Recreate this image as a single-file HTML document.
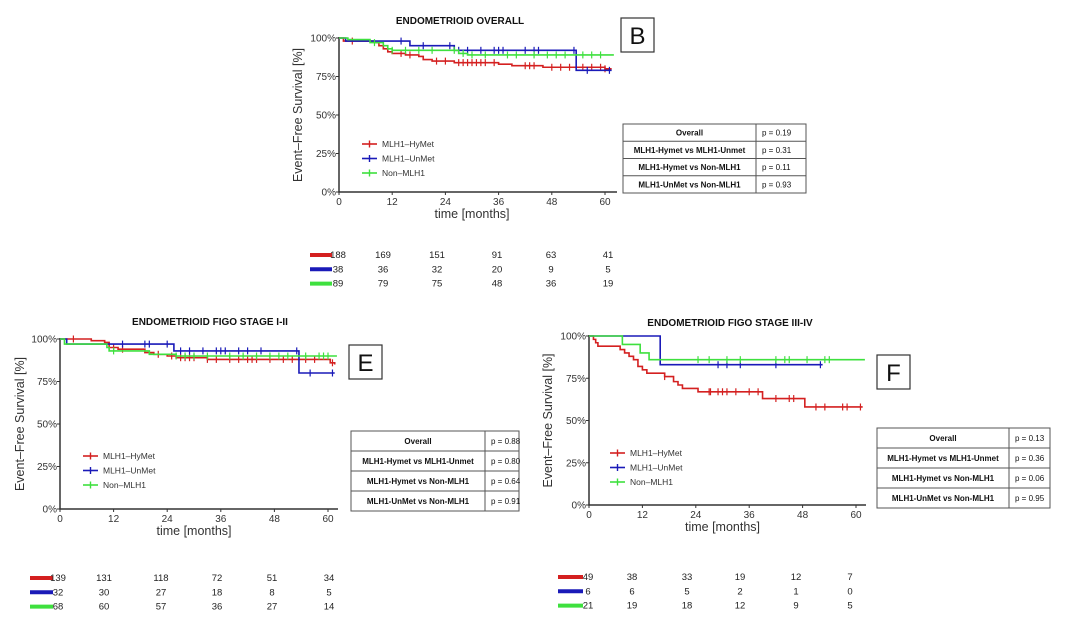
<!DOCTYPE html>
<html><head><meta charset="utf-8">
<style>
html,body{margin:0;padding:0;background:#fff;}
svg{display:block;font-family:"Liberation Sans",Arial,sans-serif;}
</style></head>
<body>
<svg id="fig" width="1080" height="632" viewBox="0 0 1080 632"></svg>
<script>
// ---------- DATA ----------
const tickMonths = [0, 12, 24, 36, 48, 60];
const tickPct = [0, 25, 50, 75, 100];
const seriesNames = ["MLH1–HyMet", "MLH1–UnMet", "Non–MLH1"];

// Panel B (overall)
const bRedT = [0, 1, 8, 9, 10, 11, 12, 15, 18, 19, 21, 26, 36, 39, 46, 60, 61.5];
const bRedS = [100, 98, 97, 95, 93, 91, 90, 89, 88, 86, 85, 84, 83, 82, 81, 80, 80];
const bRedC = [3, 14, 16, 22, 24, 27, 28, 29, 30, 31, 32, 33, 35, 42, 43, 44, 48, 50, 52, 55, 57, 59, 60];
const bBlueT = [0, 1.5, 16, 26, 53.5, 61.5];
const bBlueS = [100, 98, 95, 92, 79, 79];
const bBlueC = [14, 19, 25, 27, 29, 32, 35, 36, 37, 42, 44, 45, 53, 56, 61];
const bGreenT = [0, 2, 7, 10, 11, 12, 27, 29, 62];
const bGreenS = [100, 99, 97, 95, 93, 92, 90, 89, 89];
const bGreenC = [8, 12, 15, 18, 21, 26, 28, 30, 33, 38, 40, 44, 47, 49, 51, 55, 57, 59];
const bRisk = [[188, 169, 151, 91, 63, 41], [38, 36, 32, 20, 9, 5], [89, 79, 75, 48, 36, 19]];
const bPvals = ["p = 0.19", "p = 0.31", "p = 0.11", "p = 0.93"];

// Panel E (stage I-II)
const eRedT = [0, 7, 10, 11, 13, 19, 21, 24, 26, 33, 60.5, 61.5];
const eRedS = [100, 99, 98, 95, 94, 92, 91, 90, 89, 88, 86, 85];
const eRedC = [3, 12, 14, 22, 25, 27, 28, 29, 30, 33, 35, 38, 40, 42, 43, 44, 47, 50, 52, 55, 57, 61];
const eBlueT = [0, 1.5, 25.5, 53.5, 61.5];
const eBlueS = [100, 97, 93, 80, 80];
const eBlueC = [14, 19, 20, 24, 27, 29, 32, 35, 36, 37, 40, 42, 45, 53, 56, 61];
const eGreenT = [0, 1, 10.5, 11, 20, 26, 62];
const eGreenS = [100, 97, 95, 93, 91, 90, 90];
const eGreenC = [12, 26, 28, 30, 33, 38, 41, 44, 47, 49, 51, 55, 58, 59, 60];
const eRisk = [[139, 131, 118, 72, 51, 34], [32, 30, 27, 18, 8, 5], [68, 60, 57, 36, 27, 14]];
const ePvals = ["p = 0.88", "p = 0.80", "p = 0.64", "p = 0.91"];

// Panel F (stage III-IV)
const fRedT = [0, 1, 1.5, 2, 7, 8, 9, 10, 11, 12, 13, 17, 19, 20, 21, 24.5, 39, 48.5, 61.5];
const fRedS = [100, 98, 96, 94, 92, 90, 88, 86, 82, 80, 78, 76, 73, 71, 69, 67, 63, 58, 58];
const fRedC = [17, 27, 27.3, 29, 30, 31, 33, 36, 38, 42, 45, 46, 51, 53, 57, 58, 61];
const fBlueT = [0, 16, 52.5];
const fBlueS = [100, 83, 83];
const fBlueC = [29, 31, 34, 42, 52];
const fGreenT = [0, 7.5, 11.5, 13.5, 62];
const fGreenS = [100, 95, 90, 86, 86];
const fGreenC = [24.5, 27, 31, 34, 42, 44, 45, 49, 53, 54];
const fRisk = [[49, 38, 33, 19, 12, 7], [6, 6, 5, 2, 1, 0], [21, 19, 18, 12, 9, 5]];
const fPvals = ["p = 0.13", "p = 0.36", "p = 0.06", "p = 0.95"];

const compLabels = ["Overall", "MLH1-Hymet vs MLH1-Unmet", "MLH1-Hymet vs Non-MLH1", "MLH1-UnMet vs Non-MLH1"];

// ---------- DRAWING ----------
const NS = "http://www.w3.org/2000/svg";
const svg = document.getElementById("fig");
const colors = ["#d42020", "#1a1ab8", "#3ee03e"];
function mk(tag, attrs, parent, text) {
  const e = document.createElementNS(NS, tag);
  for (const k in attrs) e.setAttribute(k, attrs[k]);
  if (text !== undefined) e.textContent = text;
  (parent || svg).appendChild(e);
  return e;
}

function panel(cfg) {
  const g = mk("g", {});
  
  
  const sx = m => cfg.x0 + (m / 60) * (cfg.x60 - cfg.x0);
  const sy = p => cfg.y0 + (p / 100) * (cfg.y100 - cfg.y0);

  const title = mk("text", {x: cfg.titleX, y: cfg.titleY, "text-anchor": "middle", "font-size": 10, "font-weight": "bold", fill: "#111"}, g, cfg.title);
  
  

  const lb = mk("rect", {x: cfg.letter[0], y: cfg.letter[1], width: 33, height: 34, fill: "#fff", stroke: "#333", "stroke-width": 1.2}, g);
  
  
  const lt = mk("text", {x: cfg.letter[0] + 16.5, y: cfg.letter[1] + 26, "text-anchor": "middle", "font-size": 24, fill: "#111"}, g, cfg.letterText);
  
  

  const ax = mk("path", {d: `M${cfg.x0},${sy(100) - 1} V${cfg.y0} H${cfg.xEnd}`, stroke: "#333", "stroke-width": 1.5, fill: "none"}, g);
  
  
  tickMonths.forEach(m => {
    mk("line", {x1: sx(m), x2: sx(m), y1: cfg.y0, y2: cfg.y0 + 3, stroke: "#333"}, g);
    const t = mk("text", {x: sx(m), y: cfg.y0 + 13, "text-anchor": "middle", "font-size": 10, fill: "#333"}, g, String(m));
    
    
  });
  tickPct.forEach(p => {
    mk("line", {x1: cfg.x0 - 3, x2: cfg.x0, y1: sy(p), y2: sy(p), stroke: "#333"}, g);
    const t = mk("text", {x: cfg.x0 - 3, y: sy(p) + 3.5, "text-anchor": "end", "font-size": 10, fill: "#333"}, g, p + "%");
    
    
  });
  const xt = mk("text", {x: (cfg.x0 + cfg.x60) / 2, y: cfg.y0 + 26, "text-anchor": "middle", "font-size": 12.5, fill: "#333"}, g, "time [months]");
  
  
  const yc = (cfg.y0 + sy(100)) / 2;
  const yt = mk("text", {x: cfg.yTitleX, y: yc, "text-anchor": "middle", "font-size": 12.5, fill: "#333", transform: `rotate(-90 ${cfg.yTitleX} ${yc})`}, g, "Event–Free Survival [%]");
  
  

  cfg.series.forEach((s, i) => {
    let d = `M${sx(s.t[0])},${sy(s.s[0])}`;
    for (let k = 1; k < s.t.length; k++) {
      d += ` H${sx(s.t[k])} V${sy(s.s[k])}`;
    }
    const p = mk("path", {d, stroke: colors[i], "stroke-width": 1.6, fill: "none"}, g);
    
    
    s.c.forEach(ct => {
      let v = s.s[0];
      for (let k = 0; k < s.t.length; k++) if (s.t[k] <= ct) v = s.s[k];
      const cm = mk("line", {x1: sx(ct), x2: sx(ct), y1: sy(v) - 3.5, y2: sy(v) + 3.5, stroke: colors[i], "stroke-width": 1.2}, g);
      
      
    });
  });

  seriesNames.forEach((n, i) => {
    const ly = cfg.leg[1] + i * 14.5;
    const lg = mk("g", {}, g);
    
    
    mk("line", {x1: cfg.leg[0], x2: cfg.leg[0] + 15, y1: ly, y2: ly, stroke: colors[i], "stroke-width": 1.6}, lg);
    mk("line", {x1: cfg.leg[0] + 7.5, x2: cfg.leg[0] + 7.5, y1: ly - 3.5, y2: ly + 3.5, stroke: colors[i], "stroke-width": 1.4}, lg);
    mk("text", {x: cfg.leg[0] + 20, y: ly + 3, "font-size": 8.5, fill: "#333"}, lg, n);
  });

  const tb = cfg.table;
  const tg = mk("g", {}, g);
  
  
  const rh = tb[3] / 4;
  mk("rect", {x: tb[0], y: tb[1], width: tb[2], height: tb[3], fill: "#fff", stroke: "#555", "stroke-width": 1}, tg);
  mk("line", {x1: tb[4], x2: tb[4], y1: tb[1], y2: tb[1] + tb[3], stroke: "#555"}, tg);
  for (let r = 0; r < 4; r++) {
    if (r > 0) mk("line", {x1: tb[0], x2: tb[0] + tb[2], y1: tb[1] + r * rh, y2: tb[1] + r * rh, stroke: "#555"}, tg);
    mk("text", {x: (tb[0] + tb[4]) / 2, y: tb[1] + r * rh + rh / 2 + 3, "text-anchor": "middle", "font-size": 8, "font-weight": "bold", fill: "#111"}, tg, compLabels[r]);
    mk("text", {x: tb[4] + 6, y: tb[1] + r * rh + rh / 2 + 3, "font-size": 8, fill: "#111"}, tg, cfg.pvals[r]);
  }

  const rg = mk("g", {}, g);
  
  
  cfg.risk.forEach((row, i) => {
    const ry = cfg.riskY + i * 14.3;
    mk("line", {x1: cfg.riskLine[0], x2: cfg.riskLine[1], y1: ry - 3, y2: ry - 3, stroke: colors[i], "stroke-width": 4}, rg);
    row.forEach((v, j) => {
      mk("text", {x: cfg.riskX[j], y: ry, "text-anchor": "middle", "font-size": 9.5, fill: "#222"}, rg, String(v));
    });
  });
}

panel({
  name: "panel-b-overall", title: "ENDOMETRIOID OVERALL", titleX: 460, titleY: 24,
  letter: [621, 18], letterText: "B",
  x0: 339, x60: 605, xEnd: 617, y0: 192, y100: 38, yTitleX: 302,
  series: [{t: bRedT, s: bRedS, c: bRedC}, {t: bBlueT, s: bBlueS, c: bBlueC}, {t: bGreenT, s: bGreenS, c: bGreenC}],
  leg: [362, 144], table: [623, 124, 183, 69, 756], pvals: bPvals,
  risk: bRisk, riskY: 258, riskLine: [310, 332], riskX: [338, 383, 437, 497, 551, 608]
});
panel({
  name: "panel-e-stage-i-ii", title: "ENDOMETRIOID FIGO STAGE I-II", titleX: 210, titleY: 325,
  letter: [349, 345], letterText: "E",
  x0: 60, x60: 328, xEnd: 338, y0: 509, y100: 339, yTitleX: 24,
  series: [{t: eRedT, s: eRedS, c: eRedC}, {t: eBlueT, s: eBlueS, c: eBlueC}, {t: eGreenT, s: eGreenS, c: eGreenC}],
  leg: [83, 456], table: [351, 431, 168, 80, 485], pvals: ePvals,
  risk: eRisk, riskY: 581, riskLine: [30, 53], riskX: [58, 104, 161, 217, 272, 329]
});
panel({
  name: "panel-f-stage-iii-iv", title: "ENDOMETRIOID FIGO STAGE III-IV", titleX: 730, titleY: 326,
  letter: [877, 355], letterText: "F",
  x0: 589, x60: 856, xEnd: 866, y0: 505, y100: 336, yTitleX: 552,
  series: [{t: fRedT, s: fRedS, c: fRedC}, {t: fBlueT, s: fBlueS, c: fBlueC}, {t: fGreenT, s: fGreenS, c: fGreenC}],
  leg: [610, 453], table: [877, 428, 173, 80, 1009], pvals: fPvals,
  risk: fRisk, riskY: 580, riskLine: [558, 583], riskX: [588, 632, 687, 740, 796, 850]
});
</script>
</body></html>
